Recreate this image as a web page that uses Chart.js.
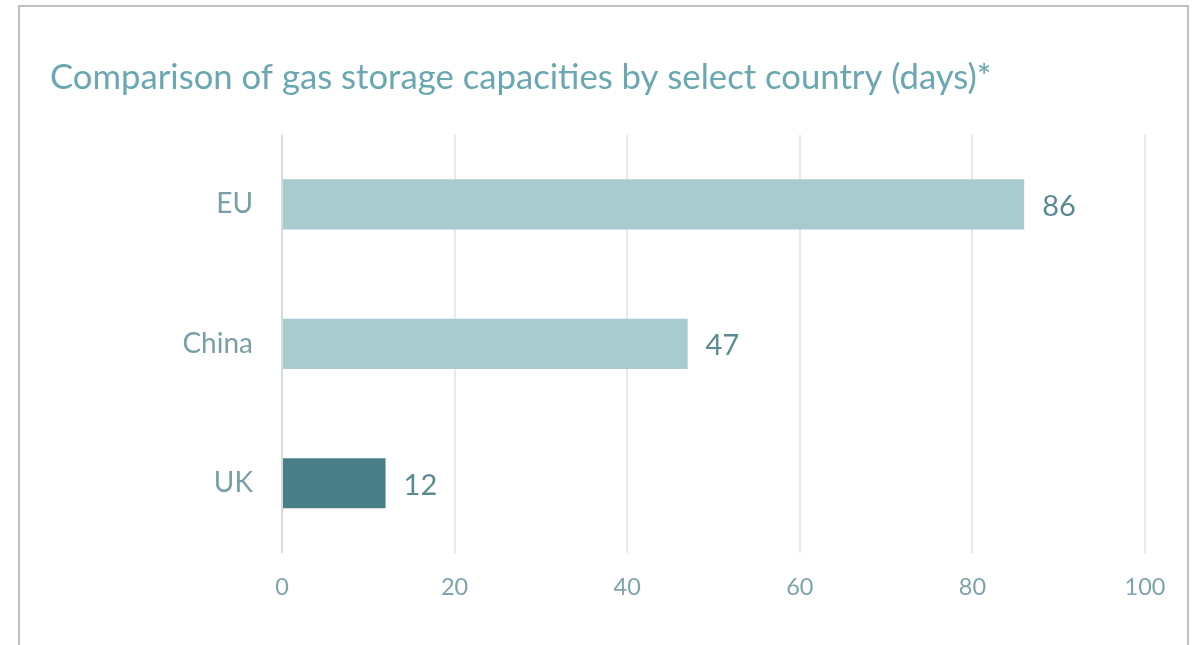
<!DOCTYPE html>
<html>
<head>
<meta charset="utf-8">
<script src="https://cdn.jsdelivr.net/npm/chart.js@4"></script>
<style>
  html, body { margin: 0; padding: 0; background: #fff; overflow: hidden; }
  #frame {
    position: absolute;
    left: 18px;
    top: 5px;
    width: 1167px;
    height: 700px;
    border: 2px solid #c0c0c0;
  }
  #wrap { position: relative; width: 1167px; height: 638px; }
</style>
</head>
<body>
<div id="frame">
  <div id="wrap"><canvas id="chart"></canvas></div>
</div>
<script>
// Data
const countries = ['EU', 'China', 'UK'];
const storageDays = [86, 47, 12];
const barColors = ['#a8cbd0', '#a8cbd0', '#4a7f87'];
const xTicks = [0, 20, 40, 60, 80, 100];

const FONT = 'Lato, "Open Sans", sans-serif';

// Value labels at the end of each bar
const valueLabels = {
  id: 'valueLabels',
  afterDatasetsDraw(chart) {
    const ctx = chart.ctx;
    const meta = chart.getDatasetMeta(0);
    ctx.save();
    ctx.font = '29px ' + FONT;
    ctx.fillStyle = '#5b8a93';
    ctx.textAlign = 'left';
    ctx.textBaseline = 'middle';
    meta.data.forEach((bar, i) => {
      ctx.fillText(String(storageDays[i]), bar.x + 18, bar.y + 2);
    });
    ctx.restore();
  }
};

new Chart(document.getElementById('chart'), {
  type: 'bar',
  data: {
    labels: countries,
    datasets: [{
      data: storageDays,
      backgroundColor: barColors,
      borderWidth: 0,
      barPercentage: 0.36,
      categoryPercentage: 1
    }]
  },
  options: {
    indexAxis: 'y',
    responsive: true,
    maintainAspectRatio: false,
    animation: false,
    layout: { padding: { left: 30, right: 42, top: 0, bottom: 44 } },
    plugins: {
      legend: { display: false },
      tooltip: { enabled: false },
      title: {
        display: true,
        text: 'Comparison of gas storage capacities by select country (days)*',
        align: 'start',
        color: '#6aa7b0',
        font: { family: FONT, size: 34.7, weight: 'normal' },
        lineHeight: 1.2,
        padding: { top: 50, bottom: 36 }
      }
    },
    scales: {
      x: {
        min: 0,
        max: 100,
        afterBuildTicks(scale) {
          scale.ticks = xTicks.map(v => ({ value: v }));
        },
        afterFit(scale) { scale.height = 48; },
        grid: {
          color: ctx => ctx.index === 0 ? '#d3dcdf' : '#e2ebed',
          lineWidth: 2,
          drawTicks: false
        },
        border: { display: false },
        ticks: {
          color: '#7fa3ab',
          font: { family: FONT, size: 23.5 },
          padding: 20
        }
      },
      y: {
        afterFit(scale) { scale.width = 232; },
        grid: { display: false, drawTicks: false },
        border: { display: false },
        ticks: {
          color: '#7a9ea6',
          font: { family: FONT, size: 28 },
          padding: 29
        }
      }
    }
  },
  plugins: [valueLabels]
});
</script>
</body>
</html>
